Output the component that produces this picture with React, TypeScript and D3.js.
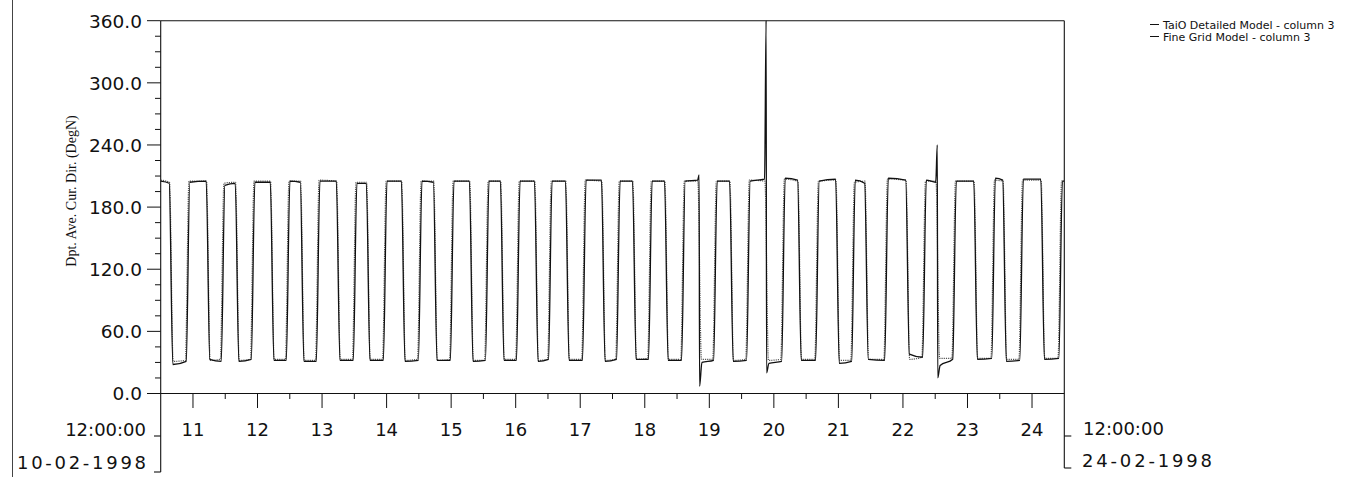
import React from 'react';
import * as d3 from 'd3';

const W = 1358;
const H = 477;

// ---- Data ----
const yTickValues = [0, 60, 120, 180, 240, 300, 360];
const yMinorValues = [15, 30, 45, 75, 90, 105, 135, 150, 165, 195, 210, 225, 255, 270, 285, 315, 330, 345];
const dayTicks = [11, 12, 13, 14, 15, 16, 17, 18, 19, 20, 21, 22, 23, 24];
const halfDayTicks = [11.5, 12.5, 13.5, 14.5, 15.5, 16.5, 17.5, 18.5, 19.5, 20.5, 21.5, 22.5, 23.5];
const startLabels = ['12:00:00', '10-02-1998'];
const endLabels = ['12:00:00', '24-02-1998'];
const yTitle = 'Dpt. Ave. Cur. Dir. (DegN)';
const seriesNames = ['TaiO Detailed Model - column 3', 'Fine Grid Model - column 3'];
const dayDomain = [10.5, 24.5];
const degDomain = [0, 360];

// TaiO Detailed Model: times (days of Feb 1998) of the swings high->low and low->high
const taioFall = [10.660, 11.233, 11.683, 12.226, 12.691, 13.249, 13.714, 14.257, 14.753, 15.311, 15.791, 16.319, 16.799, 17.357, 17.838, 18.334, 18.846, 19.342, 19.884, 20.396, 20.985, 21.435, 22.071, 22.536, 23.125, 23.574, 24.164];
const taioRise = [10.923, 11.466, 11.931, 12.474, 12.939, 13.512, 13.978, 14.520, 15.016, 15.559, 16.040, 16.536, 17.063, 17.590, 18.086, 18.598, 19.094, 19.605, 20.148, 20.675, 21.233, 21.745, 22.334, 22.799, 23.404, 23.838, 24.443];
const taioHighStart = [205, 204, 201, 204, 205, 205, 203, 205, 205, 205, 205, 205, 205, 206, 205, 205, 205, 205, 205, 208, 205, 206, 208, 206, 205, 208, 207, 205];
const taioHighEnd = [203, 205, 203, 204, 204, 205, 203, 205, 204, 205, 205, 205, 205, 206, 205, 205, 206, 205, 207, 206, 207, 203, 206, 204, 205, 206, 207, 205];
const taioLowStart = [28, 33, 31, 32, 31, 32, 32, 31, 32, 31, 32, 31, 32, 31, 33, 32, 30, 31, 29, 32, 29, 33, 38, 27, 33, 31, 33];
const taioLowEnd = [31, 31, 33, 32, 31, 32, 32, 32, 32, 32, 32, 33, 32, 33, 33, 32, 32, 32, 31, 32, 31, 32, 35, 33, 34, 32, 34];
const spikeDays = [18.846, 19.884, 22.536];
const spikeTops = [211, 360, 240];
const spikeBottoms = [7, 20, 15];

// Fine Grid Model
const fineFall = [10.665, 11.238, 11.688, 12.230, 12.696, 13.254, 13.718, 14.262, 14.758, 15.316, 15.796, 16.324, 16.804, 17.362, 17.843, 18.339, 18.850, 19.347, 19.889, 20.401, 20.990, 21.440, 22.076, 22.540, 23.130, 23.579, 24.169];
const fineRise = [10.910, 11.452, 11.918, 12.460, 12.926, 13.498, 13.965, 14.507, 15.003, 15.546, 16.027, 16.523, 17.050, 17.577, 18.073, 18.585, 19.081, 19.592, 20.135, 20.662, 21.220, 21.732, 22.321, 22.786, 23.391, 23.825, 24.430];
const fineHighStart = [206, 205, 203, 205, 205, 206, 204, 205, 205, 205, 205, 205, 205, 206, 205, 205, 205, 205, 206, 207, 205, 204, 207, 205, 205, 206, 206, 205];
const fineHighEnd = [204, 205, 204, 205, 205, 205, 204, 205, 205, 205, 205, 205, 205, 205, 205, 205, 205, 205, 205, 205, 206, 205, 206, 205, 205, 205, 206, 205];
const fineLowStart = [31, 32, 32, 33, 32, 33, 33, 32, 32, 32, 33, 32, 33, 32, 33, 33, 33, 32, 32, 33, 32, 33, 33, 34, 34, 33, 34];
const fineLowEnd = [32, 33, 33, 33, 32, 33, 33, 33, 33, 32, 33, 33, 33, 33, 34, 33, 33, 33, 33, 33, 32, 33, 35, 34, 34, 33, 34];

type Pt = [number, number];

function buildSeries(
  fall: number[], rise: number[], hiA: number[], hiB: number[], loA: number[], loB: number[],
  sDays: number[], sTops: number[], sBottoms: number[]
): Pt[] {
  const r = 0.028;
  const pts: Pt[] = [[dayDomain[0], hiA[0]]];
  for (let i = 0; i < fall.length; i++) {
    const f = fall[i];
    const k = sDays.findIndex((d) => Math.abs(d - f) < 0.01);
    pts.push([f - r, hiB[i]]);
    if (k >= 0) {
      pts.push([f - 0.004, sTops[k]]);
      pts.push([f + 0.003, sBottoms[k]]);
      pts.push([f + 0.04, loA[i]]);
    } else {
      pts.push([f + r, loA[i]]);
    }
    const rr = rise[i];
    pts.push([rr - r, loB[i]]);
    pts.push([rr + r, hiA[i + 1]]);
  }
  pts.push([dayDomain[1], hiB[fall.length]]);
  return pts;
}

const taioPts = buildSeries(taioFall, taioRise, taioHighStart, taioHighEnd, taioLowStart, taioLowEnd, spikeDays, spikeTops, spikeBottoms);
const finePts = buildSeries(fineFall, fineRise, fineHighStart, fineHighEnd, fineLowStart, fineLowEnd, [], [], []);

export default function App() {
  const x = d3.scaleLinear().domain(dayDomain).range([160.7, 1064.3]);
  const y = d3.scaleLinear().domain(degDomain).range([393.5, 20.7]);
  const line = d3
    .line<Pt>()
    .x((d) => x(d[0]))
    .y((d) => y(d[1]))
    .curve(d3.curveMonotoneX);

  const left = x(dayDomain[0]);
  const right = x(dayDomain[1]);
  const top = y(degDomain[1]);
  const bottom = y(degDomain[0]);
  const font = "'DejaVu Sans', sans-serif";
  const ink = '#111';

  return (
    <svg
      width={W}
      height={H}
      viewBox={`0 0 ${W} ${H}`}
      style={{ position: 'absolute', left: 0, top: 0, background: '#fff' }}
    >
      <rect x={0} y={0} width={W} height={H} fill="#fff" />
      {/* scan border on the far left */}
      <line x1={12.5} y1={0} x2={12.5} y2={H} stroke="#444" strokeWidth={1} />

      {/* frame */}
      <g stroke={ink} strokeWidth={1.1} fill="none">
        <line x1={left} y1={top} x2={right} y2={top} />
        <line x1={right} y1={top} x2={right} y2={468} />
        <line x1={left} y1={top} x2={left} y2={472} />
        <line x1={left} y1={bottom} x2={right} y2={bottom} />
        {/* date brackets */}
        <line x1={154} y1={436} x2={left} y2={436} />
        <line x1={154} y1={472} x2={left} y2={472} />
        <line x1={right} y1={436} x2={right + 7} y2={436} />
        <line x1={right} y1={468} x2={right + 7} y2={468} />
      </g>

      {/* y ticks */}
      <g stroke={ink} strokeWidth={1}>
        {yTickValues.map((v) => (
          <line key={'ym' + v} x1={147} y1={y(v)} x2={left} y2={y(v)} />
        ))}
        {yMinorValues.map((v) => (
          <line key={'yn' + v} x1={155} y1={y(v)} x2={left} y2={y(v)} />
        ))}
      </g>
      <g fontFamily={font} fontSize={18.5} fill={ink} textAnchor="end">
        {yTickValues.map((v) => (
          <text key={'yl' + v} x={142} y={y(v) + 6.8}>
            {v.toFixed(1)}
          </text>
        ))}
      </g>

      {/* x ticks */}
      <g stroke={ink} strokeWidth={1}>
        {dayTicks.map((d) => (
          <line key={'xm' + d} x1={x(d)} y1={bottom} x2={x(d)} y2={408} />
        ))}
        {halfDayTicks.map((d) => (
          <line key={'xn' + d} x1={x(d)} y1={bottom} x2={x(d)} y2={399} />
        ))}
      </g>
      <g fontFamily={font} fontSize={18} fill={ink} textAnchor="middle">
        {dayTicks.map((d) => (
          <text key={'xl' + d} x={x(d)} y={436}>
            {String(d)}
          </text>
        ))}
      </g>

      {/* start / end date labels */}
      <g fontFamily={font} fontSize={18} fill={ink}>
        <text x={146} y={436} textAnchor="end">{startLabels[0]}</text>
        <text x={17} y={469} textLength={129} lengthAdjust="spacing">{startLabels[1]}</text>
        <text x={1083} y={435}>{endLabels[0]}</text>
        <text x={1082} y={467} textLength={130} lengthAdjust="spacing">{endLabels[1]}</text>
      </g>

      {/* y title */}
      <text
        transform="translate(76,191) rotate(-90)"
        textAnchor="middle"
        fontFamily="'Liberation Serif', 'Times New Roman', serif"
        fontSize={14}
        fill={ink}
      >
        {yTitle}
      </text>

      {/* series */}
      <path d={line(finePts) || ''} fill="none" stroke="#555" strokeWidth={1.2} strokeDasharray="1.2,1" />
      <path d={line(taioPts) || ''} fill="none" stroke={ink} strokeWidth={1.3} />

      {/* legend */}
      <g fontFamily={font} fontSize={11} fill={ink}>
        {seriesNames.map((n, i) => (
          <g key={n}>
            <line x1={1150} x2={1159} y1={24.5 + i * 12} y2={24.5 + i * 12} stroke={ink} strokeWidth={1} />
            <text x={1163} y={28.5 + i * 12}>{n}</text>
          </g>
        ))}
      </g>
    </svg>
  );
}
